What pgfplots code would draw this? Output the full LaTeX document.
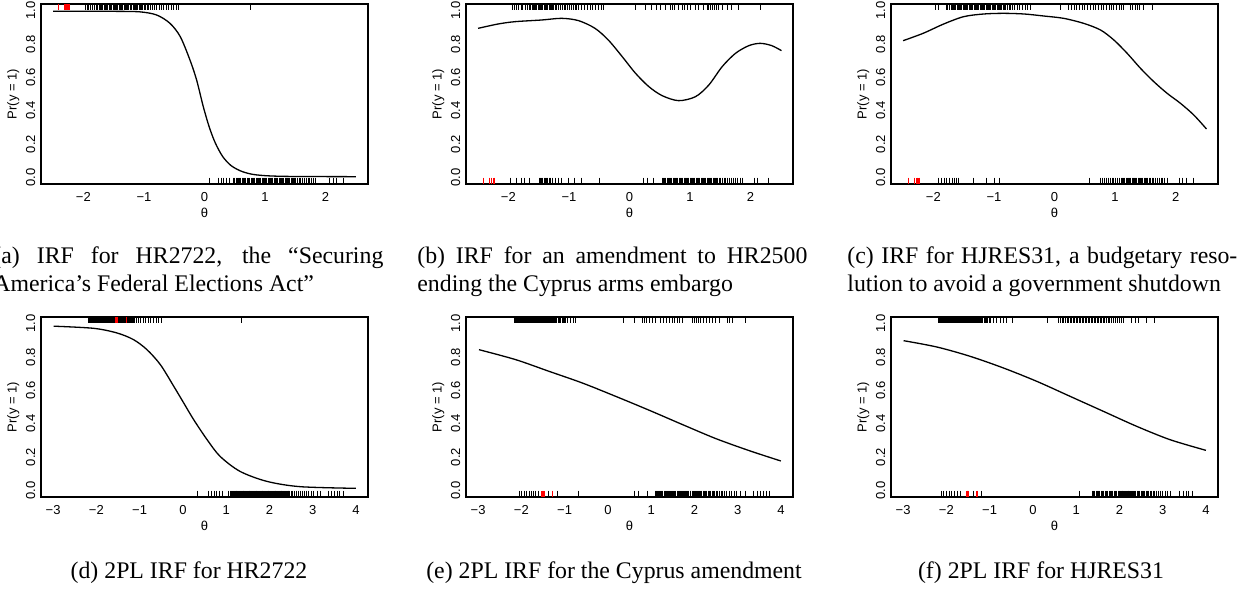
\documentclass[border=0pt]{standalone}
\usepackage{fontspec}
\setmainfont{Liberation Serif}
\newfontfamily\rsans{Liberation Sans}
\usepackage{pgfplots}
\pgfplotsset{compat=1.18}

\newcommand\rfont{\rsans\fontsize{6.5}{7.8}\selectfont}
\newcommand\capfont{\fontsize{11.9}{14}\selectfont}

\pgfplotsset{
  irf/.style={
    scale only axis, width=163.5pt, height=90pt,
    anchor=north west,
    ymin=-0.04, ymax=1.04,
    ytick={0,0.2,0.4,0.6,0.8,1},
    yticklabels={0.0,0.2,0.4,0.6,0.8,1.0},
    major tick length=0pt,
    axis line style={line width=0.6pt},
    tick label style={font=\rfont},
    label style={font=\rfont},
    xticklabel style={anchor=north, inner xsep=0pt, inner ysep=4.2pt},
    yticklabel style={rotate=90, anchor=south, inner xsep=0pt, inner ysep=2.7pt},
    xlabel={θ}, ylabel={Pr(y = 1)},
    xlabel style={at={(axis description cs:0.5,-0.16)}, anchor=center, inner sep=0pt},
    ylabel style={at={(axis description cs:-0.085,0.5)}, anchor=center, inner sep=0pt},
  },
  rowone/.style={xmin=-2.7, xmax=2.7, xtick={-2,-1,0,1,2}, xticklabels={−2,−1,0,1,2}},
  rowtwo/.style={xmin=-3.28, xmax=4.28, xtick={-3,-2,-1,0,1,2,3,4},
    xticklabels={−3,−2,−1,0,1,2,3,4}},
  irfcurve/.style={black, line width=0.65pt, smooth, no marks},
  rug/.style={only marks, mark=|, mark size=1.6pt},
  rugyes/.style={rug, black, mark options={yshift=1.73pt, line width=0.45pt}},
  rugno/.style={rug, black, mark options={yshift=-1.73pt, line width=0.45pt}},
  redyes/.style={rug, red, mark options={yshift=1.73pt, line width=0.8pt}},
  redno/.style={rug, red, mark options={yshift=-1.73pt, line width=0.8pt}},
}

\begin{document}
\begin{tikzpicture}

% (a) nonparametric IRF, HR2722
\begin{axis}[irf, rowone, at={(20.5pt,-2pt)}]
\addplot[irfcurve] coordinates {(-2.5,0.997) (-2.0,0.997) (-1.5,0.996) (-1.07,0.993) (-0.79,0.974)
  (-0.57,0.924) (-0.40,0.844) (-0.24,0.704) (-0.13,0.584) (-0.02,0.424) (0.08,0.30) (0.18,0.205)
  (0.30,0.125) (0.44,0.07) (0.62,0.035) (0.85,0.015) (1.3,0.006) (2.5,0.004)};
\addplot[rugyes] coordinates {(-1.97,1) (-1.94,1) (-1.91,1) (-1.88,1) (-1.85,1) (-1.81,1) (-1.78,1)
  (-1.76,1) (-1.74,1) (-1.72,1) (-1.70,1) (-1.68,1) (-1.66,1) (-1.64,1) (-1.62,1) (-1.60,1) (-1.57,1)
  (-1.55,1) (-1.53,1) (-1.51,1) (-1.49,1) (-1.47,1) (-1.45,1) (-1.43,1) (-1.41,1) (-1.39,1) (-1.37,1)
  (-1.35,1) (-1.33,1) (-1.31,1) (-1.29,1) (-1.27,1) (-1.25,1) (-1.23,1) (-1.20,1) (-1.18,1) (-1.16,1)
  (-1.14,1) (-1.12,1) (-1.10,1) (-1.08,1) (-1.06,1) (-1.04,1) (-1.02,1) (-0.99,1) (-0.97,1) (-0.95,1)
  (-0.92,1) (-0.89,1) (-0.86,1) (-0.83,1) (-0.79,1) (-0.75,1) (-0.71,1) (-0.67,1) (-0.63,1) (-0.59,1)
  (-0.55,1) (-0.51,1) (-0.47,1) (-0.43,1) (0.76,1)};
\addplot[rugno] coordinates {(0.09,0) (0.23,0) (0.28,0) (0.32,0) (0.37,0) (0.42,0) (0.47,0) (0.50,0)
  (0.52,0) (0.54,0) (0.56,0) (0.58,0) (0.60,0) (0.62,0) (0.64,0) (0.66,0) (0.68,0) (0.71,0) (0.73,0)
  (0.75,0) (0.77,0) (0.79,0) (0.81,0) (0.83,0) (0.85,0) (0.87,0) (0.89,0) (0.91,0) (0.93,0) (0.95,0)
  (0.97,0) (0.99,0) (1.01,0) (1.03,0) (1.05,0) (1.07,0) (1.09,0) (1.11,0) (1.13,0) (1.15,0) (1.17,0)
  (1.19,0) (1.21,0) (1.23,0) (1.25,0) (1.27,0) (1.29,0) (1.31,0) (1.33,0) (1.35,0) (1.37,0) (1.39,0)
  (1.41,0) (1.43,0) (1.45,0) (1.47,0) (1.49,0) (1.51,0) (1.53,0) (1.56,0) (1.59,0) (1.62,0) (1.65,0)
  (1.68,0) (1.71,0) (1.74,0) (1.77,0) (1.80,0) (1.84,0) (2.07,0) (2.13,0) (2.18,0) (2.29,0)};
\addplot[redyes] coordinates {(-2.41,1) (-2.30,1) (-2.27,1) (-2.24,1)};
\end{axis}

% (b) nonparametric IRF, Cyprus amendment
\begin{axis}[irf, rowone, at={(233pt,-2pt)}]
\addplot[irfcurve] coordinates {(-2.50,0.894) (-2.17,0.92) (-1.89,0.934) (-1.45,0.944) (-1.12,0.954)
  (-0.84,0.94) (-0.57,0.894) (-0.35,0.824) (-0.12,0.724) (0.10,0.624) (0.32,0.544) (0.54,0.49)
  (0.81,0.46) (1.09,0.484) (1.31,0.554) (1.53,0.664) (1.75,0.744) (1.97,0.79) (2.16,0.804)
  (2.35,0.79) (2.51,0.76)};
\addplot[rugyes] coordinates {(-1.94,1) (-1.90,1) (-1.86,1) (-1.83,1) (-1.79,1) (-1.76,1) (-1.72,1)
  (-1.69,1) (-1.66,1) (-1.63,1) (-1.61,1) (-1.59,1) (-1.57,1) (-1.55,1) (-1.53,1) (-1.51,1) (-1.49,1)
  (-1.47,1) (-1.45,1) (-1.43,1) (-1.41,1) (-1.39,1) (-1.37,1) (-1.35,1) (-1.33,1) (-1.31,1) (-1.29,1)
  (-1.27,1) (-1.25,1) (-1.23,1) (-1.20,1) (-1.17,1) (-1.14,1) (-1.11,1) (-1.08,1) (-1.05,1) (-1.02,1)
  (-0.99,1) (-0.96,1) (-0.93,1) (-0.90,1) (-0.87,1) (-0.84,1) (-0.80,1) (-0.75,1) (-0.70,1) (-0.65,1)
  (-0.61,1) (-0.56,1) (-0.52,1) (-0.47,1) (-0.43,1)
  (0.09,1) (0.26,1) (0.37,1) (0.45,1) (0.51,1) (0.59,1) (0.67,1) (0.71,1) (0.75,1) (0.81,1) (0.87,1)
  (0.91,1) (0.96,1) (1.01,1) (1.09,1) (1.14,1) (1.22,1) (1.28,1) (1.31,1) (1.34,1) (1.37,1) (1.40,1)
  (1.43,1) (1.47,1) (1.53,1) (1.61,1) (1.69,1) (1.80,1) (2.16,1)};
\addplot[rugno] coordinates {(-1.96,0) (-1.86,0) (-1.79,0) (-1.73,0) (-1.66,0) (-1.49,0) (-1.47,0)
  (-1.45,0) (-1.43,0) (-1.41,0) (-1.39,0) (-1.37,0) (-1.35,0) (-1.33,0) (-1.31,0) (-1.27,0) (-1.22,0)
  (-1.17,0) (-1.12,0) (-1.01,0) (-0.91,0) (-0.80,0) (-0.50,0) (0.23,0) (0.30,0) (0.40,0)
  (0.54,0) (0.56,0) (0.58,0) (0.60,0) (0.62,0) (0.64,0) (0.66,0) (0.68,0) (0.70,0) (0.72,0) (0.74,0)
  (0.76,0) (0.78,0) (0.80,0) (0.82,0) (0.84,0) (0.86,0) (0.88,0) (0.90,0) (0.92,0) (0.94,0) (0.96,0)
  (0.98,0) (1.00,0) (1.02,0) (1.04,0) (1.06,0) (1.08,0) (1.10,0) (1.12,0) (1.14,0) (1.16,0) (1.18,0)
  (1.20,0) (1.22,0) (1.24,0) (1.26,0) (1.28,0) (1.30,0) (1.32,0) (1.34,0) (1.36,0) (1.38,0) (1.40,0)
  (1.42,0) (1.44,0) (1.46,0) (1.48,0) (1.50,0) (1.53,0) (1.56,0) (1.59,0) (1.62,0) (1.65,0) (1.68,0)
  (1.71,0) (1.75,0) (1.79,0) (1.83,0) (1.86,0) (2.07,0) (2.12,0) (2.30,0)};
\addplot[redno] coordinates {(-2.41,0) (-2.31,0) (-2.28,0) (-2.24,0)};
\end{axis}

% (c) nonparametric IRF, HJRES31
\begin{axis}[irf, rowone, at={(445.5pt,-2pt)}]
\addplot[irfcurve] coordinates {(-2.50,0.82) (-2.17,0.864) (-1.83,0.92) (-1.50,0.964) (-1.17,0.98)
  (-0.84,0.984) (-0.50,0.98) (-0.18,0.968) (0.15,0.954) (0.48,0.924) (0.76,0.884) (0.98,0.824)
  (1.20,0.744) (1.42,0.654) (1.64,0.574) (1.86,0.504) (2.08,0.444) (2.30,0.374) (2.51,0.29)};
\addplot[rugyes] coordinates {(-1.96,1) (-1.92,1) (-1.79,1) (-1.76,1) (-1.73,1) (-1.71,1) (-1.69,1)
  (-1.67,1) (-1.65,1) (-1.63,1) (-1.61,1) (-1.59,1) (-1.57,1) (-1.55,1) (-1.53,1) (-1.51,1) (-1.49,1)
  (-1.47,1) (-1.45,1) (-1.43,1) (-1.41,1) (-1.39,1) (-1.37,1) (-1.35,1) (-1.33,1) (-1.31,1) (-1.29,1)
  (-1.27,1) (-1.25,1) (-1.23,1) (-1.21,1) (-1.19,1) (-1.17,1) (-1.15,1) (-1.13,1) (-1.11,1) (-1.09,1)
  (-1.07,1) (-1.05,1) (-1.03,1) (-1.01,1) (-0.99,1) (-0.97,1) (-0.95,1) (-0.93,1) (-0.91,1) (-0.89,1)
  (-0.87,1) (-0.85,1) (-0.83,1) (-0.81,1) (-0.78,1) (-0.75,1) (-0.72,1) (-0.69,1) (-0.66,1) (-0.62,1)
  (-0.58,1) (-0.53,1) (-0.48,1) (-0.44,1) (-0.40,1)
  (0.09,1) (0.23,1) (0.28,1) (0.33,1) (0.37,1) (0.42,1) (0.46,1) (0.50,1) (0.55,1) (0.60,1) (0.64,1)
  (0.68,1) (0.72,1) (0.77,1) (0.81,1) (0.85,1) (0.90,1) (0.94,1) (0.98,1) (1.03,1) (1.07,1) (1.11,1)
  (1.14,1) (1.25,1) (1.29,1) (1.33,1) (1.37,1) (1.41,1) (1.47,1) (1.61,1)};
\addplot[rugno] coordinates {(-1.92,0) (-1.86,0) (-1.82,0) (-1.78,0) (-1.73,0) (-1.68,0) (-1.65,0)
  (-1.62,0) (-1.59,0) (-1.34,0) (-1.12,0) (-1.00,0) (-0.91,0) (0.57,0)
  (0.76,0) (0.79,0) (0.83,0) (0.86,0) (0.89,0) (0.92,0) (0.95,0) (0.98,0) (1.01,0) (1.04,0) (1.07,0)
  (1.10,0) (1.12,0) (1.14,0) (1.16,0) (1.18,0) (1.20,0) (1.22,0) (1.24,0) (1.26,0) (1.28,0) (1.30,0)
  (1.32,0) (1.34,0) (1.36,0) (1.38,0) (1.40,0) (1.42,0) (1.44,0) (1.46,0) (1.48,0) (1.50,0) (1.52,0)
  (1.54,0) (1.56,0) (1.58,0) (1.61,0) (1.64,0) (1.67,0) (1.70,0) (1.73,0) (1.76,0) (1.79,0) (1.82,0)
  (1.86,0) (2.07,0) (2.12,0) (2.18,0) (2.30,0)};
\addplot[redno] coordinates {(-2.41,0) (-2.31,0) (-2.27,0) (-2.24,0)};
\end{axis}

% (d) 2PL IRF, HR2722
\begin{axis}[irf, rowtwo, at={(20.5pt,-158.5pt)}]
\addplot[irfcurve] coordinates {(-2.99,0.985) (-2.06,0.972) (-1.52,0.944) (-1.14,0.904) (-0.83,0.844)
  (-0.52,0.754) (-0.21,0.624) (0.02,0.524) (0.25,0.424) (0.56,0.304) (0.86,0.204) (1.32,0.114)
  (1.94,0.054) (2.71,0.022) (4.0,0.012)};
\addplot[rugyes] coordinates {(-2.19,1) (-2.17,1) (-2.15,1) (-2.13,1) (-2.11,1) (-2.09,1) (-2.07,1)
  (-2.05,1) (-2.03,1) (-2.01,1) (-1.99,1) (-1.97,1) (-1.95,1) (-1.93,1) (-1.91,1) (-1.89,1) (-1.87,1)
  (-1.85,1) (-1.83,1) (-1.81,1) (-1.79,1) (-1.77,1) (-1.75,1) (-1.73,1) (-1.71,1) (-1.69,1) (-1.67,1)
  (-1.65,1) (-1.63,1) (-1.61,1) (-1.59,1) (-1.57,1) (-1.55,1) (-1.53,1) (-1.51,1) (-1.49,1) (-1.47,1)
  (-1.45,1) (-1.43,1) (-1.41,1) (-1.39,1) (-1.37,1) (-1.35,1) (-1.33,1) (-1.31,1) (-1.29,1) (-1.27,1)
  (-1.25,1) (-1.23,1) (-1.21,1) (-1.19,1) (-1.17,1) (-1.15,1) (-1.13,1) (-1.11,1) (-1.07,1) (-1.02,1)
  (-0.97,1) (-0.91,1) (-0.86,1) (-0.80,1) (-0.74,1) (-0.68,1) (-0.62,1) (-0.56,1) (-0.49,1) (1.36,1)};
\addplot[rugno] coordinates {(0.33,0) (0.59,0) (0.66,0) (0.72,0) (0.78,0) (0.85,0) (0.92,0) (1.05,0)
  (1.09,0) (1.12,0) (1.15,0) (1.17,0) (1.19,0) (1.21,0) (1.23,0) (1.25,0) (1.27,0) (1.29,0) (1.31,0)
  (1.33,0) (1.35,0) (1.37,0) (1.39,0) (1.41,0) (1.43,0) (1.45,0) (1.47,0) (1.49,0) (1.51,0) (1.53,0)
  (1.55,0) (1.57,0) (1.59,0) (1.61,0) (1.63,0) (1.65,0) (1.67,0) (1.69,0) (1.71,0) (1.73,0) (1.75,0)
  (1.77,0) (1.79,0) (1.81,0) (1.83,0) (1.85,0) (1.87,0) (1.89,0) (1.91,0) (1.93,0) (1.95,0) (1.97,0)
  (1.99,0) (2.01,0) (2.03,0) (2.05,0) (2.07,0) (2.09,0) (2.11,0) (2.13,0) (2.15,0) (2.17,0) (2.19,0)
  (2.21,0) (2.23,0) (2.25,0) (2.27,0) (2.29,0) (2.31,0) (2.33,0) (2.35,0) (2.37,0) (2.39,0) (2.41,0)
  (2.43,0) (2.45,0) (2.47,0) (2.50,0) (2.54,0) (2.58,0) (2.63,0) (2.68,0) (2.72,0) (2.77,0) (2.82,0)
  (2.86,0) (2.91,0) (2.97,0) (3.03,0) (3.10,0) (3.17,0) (3.36,0) (3.44,0) (3.50,0) (3.57,0) (3.63,0)
  (3.71,0)};
\addplot[redyes] coordinates {(-1.56,1) (-1.54,1) (-1.52,1) (-1.30,1)};
\end{axis}

% (e) 2PL IRF, Cyprus amendment
\begin{axis}[irf, rowtwo, at={(233pt,-158.5pt)}]
\addplot[irfcurve] coordinates {(-2.98,0.844) (-2.13,0.784) (-1.36,0.714) (-0.59,0.644) (0.18,0.564)
  (0.96,0.48) (1.73,0.394) (2.50,0.31) (3.27,0.238) (4.0,0.176)};
\addplot[rugyes] coordinates {(-2.17,1) (-2.15,1) (-2.13,1) (-2.11,1) (-2.09,1) (-2.07,1) (-2.05,1)
  (-2.03,1) (-2.01,1) (-1.99,1) (-1.97,1) (-1.95,1) (-1.93,1) (-1.91,1) (-1.89,1) (-1.87,1) (-1.85,1)
  (-1.83,1) (-1.81,1) (-1.79,1) (-1.77,1) (-1.75,1) (-1.73,1) (-1.71,1) (-1.69,1) (-1.67,1) (-1.65,1)
  (-1.63,1) (-1.61,1) (-1.59,1) (-1.57,1) (-1.55,1) (-1.53,1) (-1.51,1) (-1.49,1) (-1.47,1) (-1.45,1)
  (-1.43,1) (-1.41,1) (-1.39,1) (-1.37,1) (-1.35,1) (-1.33,1) (-1.31,1) (-1.29,1) (-1.27,1) (-1.25,1)
  (-1.23,1) (-1.21,1) (-1.18,1) (-1.15,1) (-1.12,1) (-1.09,1) (-1.06,1) (-1.03,1) (-1.00,1) (-0.97,1)
  (-0.93,1) (-0.86,1) (-0.80,1) (-0.74,1)
  (0.36,1) (0.62,1) (0.79,1) (0.84,1) (0.90,1) (0.96,1) (1.02,1) (1.10,1) (1.22,1) (1.28,1) (1.35,1)
  (1.42,1) (1.50,1) (1.55,1) (1.60,1) (1.65,1) (1.73,1) (1.96,1) (2.00,1) (2.05,1) (2.10,1) (2.15,1)
  (2.20,1) (2.27,1) (2.35,1) (2.41,1) (2.48,1) (2.58,1) (2.77,1) (2.82,1) (2.88,1) (3.18,1)};
\addplot[rugno] coordinates {(-2.05,0) (-2.00,0) (-1.94,0) (-1.88,0) (-1.82,0) (-1.76,0) (-1.71,0)
  (-1.67,0) (-1.60,0) (-1.37,0) (-1.16,0) (-0.68,0) (0.61,0) (0.71,0) (0.92,0)
  (1.09,0) (1.12,0) (1.15,0) (1.17,0) (1.20,0) (1.22,0) (1.25,0) (1.27,0) (1.30,0) (1.32,0) (1.35,0)
  (1.37,0) (1.40,0) (1.42,0) (1.45,0) (1.47,0) (1.50,0) (1.52,0) (1.55,0) (1.57,0) (1.60,0) (1.62,0)
  (1.65,0) (1.67,0) (1.70,0) (1.72,0) (1.75,0) (1.77,0) (1.80,0) (1.82,0) (1.85,0) (1.87,0) (1.90,0)
  (1.92,0) (1.95,0) (1.97,0) (2.00,0) (2.02,0) (2.05,0) (2.07,0) (2.10,0) (2.12,0) (2.15,0) (2.17,0)
  (2.20,0) (2.23,0) (2.26,0) (2.29,0) (2.32,0) (2.35,0) (2.38,0) (2.41,0) (2.44,0) (2.47,0) (2.50,0)
  (2.54,0) (2.58,0) (2.62,0) (2.66,0) (2.70,0) (2.75,0) (2.80,0) (2.85,0) (2.92,0) (2.98,0) (3.07,0)
  (3.19,0) (3.36,0) (3.46,0) (3.52,0) (3.60,0) (3.66,0) (3.73,0)};
\addplot[redno] coordinates {(-1.52,0) (-1.50,0) (-1.48,0) (-1.28,0)};
\end{axis}

% (f) 2PL IRF, HJRES31
\begin{axis}[irf, rowtwo, at={(445.5pt,-158.5pt)}]
\addplot[irfcurve] coordinates {(-2.99,0.898) (-2.22,0.86) (-1.45,0.804) (-0.68,0.734) (0.09,0.654)
  (0.86,0.564) (1.63,0.474) (2.40,0.384) (3.17,0.304) (4.0,0.24)};
\addplot[rugyes] coordinates {(-2.18,1) (-2.16,1) (-2.14,1) (-2.12,1) (-2.10,1) (-2.08,1) (-2.06,1)
  (-2.04,1) (-2.02,1) (-2.00,1) (-1.98,1) (-1.96,1) (-1.94,1) (-1.92,1) (-1.90,1) (-1.88,1) (-1.86,1)
  (-1.84,1) (-1.82,1) (-1.80,1) (-1.78,1) (-1.76,1) (-1.74,1) (-1.72,1) (-1.70,1) (-1.68,1) (-1.66,1)
  (-1.64,1) (-1.62,1) (-1.60,1) (-1.58,1) (-1.56,1) (-1.54,1) (-1.52,1) (-1.50,1) (-1.48,1) (-1.46,1)
  (-1.44,1) (-1.42,1) (-1.40,1) (-1.38,1) (-1.36,1) (-1.34,1) (-1.32,1) (-1.30,1) (-1.28,1) (-1.26,1)
  (-1.24,1) (-1.22,1) (-1.19,1) (-1.16,1) (-1.13,1) (-1.10,1) (-1.07,1) (-1.04,1) (-1.01,1) (-0.98,1)
  (-0.92,1) (-0.84,1) (-0.76,1) (-0.69,1) (-0.62,1) (-0.48,1)
  (0.34,1) (0.60,1) (0.64,1) (0.68,1) (0.71,1) (0.75,1) (0.79,1) (0.82,1) (0.86,1) (0.89,1) (0.93,1)
  (0.96,1) (1.00,1) (1.03,1) (1.07,1) (1.10,1) (1.14,1) (1.17,1) (1.21,1) (1.24,1) (1.28,1) (1.31,1)
  (1.35,1) (1.38,1) (1.42,1) (1.45,1) (1.49,1) (1.52,1) (1.56,1) (1.59,1) (1.63,1) (1.66,1) (1.70,1)
  (1.74,1) (1.78,1) (1.82,1) (1.86,1) (1.90,1) (1.95,1) (2.00,1) (2.05,1) (2.10,1) (2.29,1) (2.37,1)
  (2.45,1) (2.62,1) (2.81,1)};
\addplot[rugno] coordinates {(-2.12,0) (-2.06,0) (-2.00,0) (-1.94,0) (-1.88,0) (-1.82,0) (-1.75,0)
  (-1.68,0) (-1.37,0) (-1.20,0) (1.08,0)
  (1.37,0) (1.40,0) (1.43,0) (1.46,0) (1.49,0) (1.52,0) (1.55,0) (1.58,0) (1.61,0) (1.64,0) (1.67,0)
  (1.70,0) (1.73,0) (1.76,0) (1.79,0) (1.82,0) (1.85,0) (1.88,0) (1.91,0) (1.94,0) (1.97,0) (2.00,0)
  (2.02,0) (2.04,0) (2.06,0) (2.08,0) (2.10,0) (2.12,0) (2.14,0) (2.16,0) (2.18,0) (2.20,0) (2.22,0)
  (2.24,0) (2.26,0) (2.28,0) (2.30,0) (2.32,0) (2.35,0) (2.38,0) (2.41,0) (2.44,0) (2.47,0) (2.50,0)
  (2.53,0) (2.56,0) (2.59,0) (2.62,0) (2.65,0) (2.68,0) (2.71,0) (2.74,0) (2.78,0) (2.82,0) (2.86,0)
  (2.90,0) (2.95,0) (3.00,0) (3.06,0) (3.12,0) (3.18,0) (3.38,0) (3.48,0) (3.55,0) (3.60,0) (3.69,0)};
\addplot[redno] coordinates {(-1.53,0) (-1.51,0) (-1.49,0) (-1.29,0)};
\end{axis}

% sub-captions
\node[anchor=base west, inner sep=0pt, font=\capfont] at (-3.5pt,-131.5pt)
  {\makebox[195pt][s]{(a) IRF for HR2722, the ``Securing}};
\node[anchor=base west, inner sep=0pt, font=\capfont] at (-3.5pt,-145.5pt)
  {America's Federal Elections Act''};
\node[anchor=base west, inner sep=0pt, font=\capfont] at (208.5pt,-131.5pt)
  {\makebox[195pt][s]{(b) IRF for an amendment to HR2500}};
\node[anchor=base west, inner sep=0pt, font=\capfont] at (208.5pt,-145.5pt)
  {ending the Cyprus arms embargo};
\node[anchor=base west, inner sep=0pt, font=\capfont] at (423.5pt,-131.5pt)
  {\makebox[195pt][s]{(c) IRF for HJRES31, a budgetary reso-}};
\node[anchor=base west, inner sep=0pt, font=\capfont] at (423.5pt,-145.5pt)
  {lution to avoid a government shutdown};
\node[anchor=base, inner sep=0pt, font=\capfont] at (94.5pt,-289pt) {(d) 2PL IRF for HR2722};
\node[anchor=base, inner sep=0pt, font=\capfont] at (307pt,-289pt) {(e) 2PL IRF for the Cyprus amendment};
\node[anchor=base, inner sep=0pt, font=\capfont] at (520.5pt,-289pt) {(f) 2PL IRF for HJRES31};

\pgfresetboundingbox
\path[use as bounding box] (0,0) rectangle (622.5pt,-294pt);
\end{tikzpicture}
\end{document}
